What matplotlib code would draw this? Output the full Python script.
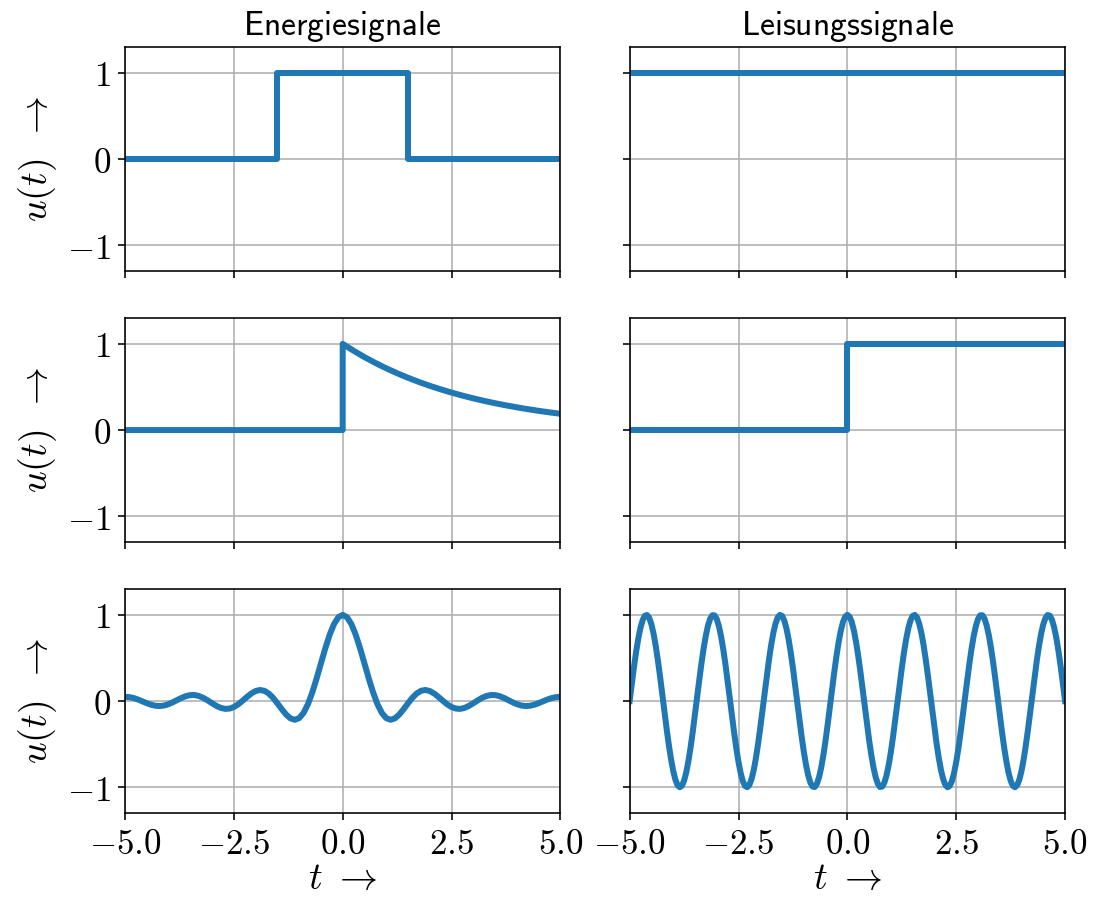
import numpy as np
import matplotlib
matplotlib.use("Agg")
import matplotlib.pyplot as plt

plt.rcParams['mathtext.fontset'] = 'cm'
plt.rcParams['font.family'] = ['DejaVu Serif']
plt.rcParams['font.size'] = 14

# sample grids for the smooth signals
t_grid = np.linspace(-5, 5, 101)   # step 0.1
t_fine = np.linspace(-5, 5, 201)   # step 0.05

# Energiesignale
rect_t = [-5, -1.5, -1.5, 1.5, 1.5, 5]
rect_u = [0, 0, 1, 1, 0, 0]

exp_t = [-5, 0, 0, 0.25, 0.5, 0.75, 1.0, 1.25, 1.5, 1.75, 2.0, 2.25, 2.5,
         2.75, 3.0, 3.25, 3.5, 3.75, 4.0, 4.25, 4.5, 4.75, 5.0]
exp_u = [0, 0, 1.0, 0.9200, 0.8465, 0.7788, 0.7165, 0.6592, 0.6065, 0.5580,
         0.5134, 0.4724, 0.4346, 0.3998, 0.3679, 0.3385, 0.3114, 0.2865,
         0.2636, 0.2425, 0.2231, 0.2053, 0.1889]

sinc_u = [0.0490, 0.0459, 0.0349, 0.0176, -0.0033, -0.0247, -0.0429, -0.0547,
          -0.0578, -0.0514, -0.0360, -0.0137, 0.0121, 0.0372, 0.0574, 0.0691,
          0.0698, 0.0586, 0.0369, 0.0074, -0.0252, -0.0558, -0.0791, -0.0906,
          -0.0876, -0.0693, -0.0376, 0.0033, 0.0474, 0.0875, 0.1164, 0.1283,
          0.1192, 0.0883, 0.0381, -0.0255, -0.0937, -0.1558, -0.2004, -0.2172,
          -0.1981, -0.1385, -0.0384, 0.0976, 0.2601, 0.4363, 0.6109, 0.7680,
          0.8925, 0.9723, 1.0,
          0.9723, 0.8925, 0.7680, 0.6109, 0.4363, 0.2601, 0.0976, -0.0384,
          -0.1385, -0.1981, -0.2172, -0.2004, -0.1558, -0.0937, -0.0255, 0.0381,
          0.0883, 0.1192, 0.1283, 0.1164, 0.0875, 0.0474, 0.0033, -0.0376,
          -0.0693, -0.0876, -0.0906, -0.0791, -0.0558, -0.0252, 0.0074, 0.0369,
          0.0586, 0.0698, 0.0691, 0.0574, 0.0372, 0.0121, -0.0137, -0.0360,
          -0.0514, -0.0578, -0.0547, -0.0429, -0.0247, -0.0033, 0.0176, 0.0349,
          0.0459, 0.0490]

# Leisungssignale
const_t = [-5, 5]
const_u = [1, 1]

step_t = [-5, 0, 0, 5]
step_u = [0, 0, 1, 1]

cos_u = [0.0, 0.2028, 0.3971, 0.5750, 0.7290, 0.8526, 0.9409, 0.9900, 0.9980, 0.9646,
         0.8910, 0.7804, 0.6374, 0.4679, 0.2790, 0.0785, -0.1253, -0.3239, -0.5090, -0.6730,
         -0.8090, -0.9114, -0.9759, -0.9999, -0.9823, -0.9239, -0.8271, -0.6959, -0.5358, -0.3535,
         -0.1564, 0.0471, 0.2487, 0.4399, 0.6129, 0.7604, 0.8763, 0.9558, 0.9956, 0.9940,
         0.9511, 0.8686, 0.7501, 0.6004, 0.4258, 0.2334, 0.0314, -0.1719, -0.3681, -0.5490,
         -0.7071, -0.8358, -0.9298, -0.9851, -0.9995, -0.9724, -0.9048, -0.7997, -0.6613, -0.4955,
         -0.3090, -0.1097, 0.0941, 0.2940, 0.4818, 0.6494, 0.7902, 0.8980, 0.9686, 0.9989,
         0.9877, 0.9354, 0.8443, 0.7181, 0.5621, 0.3827, 0.1874, -0.0157, -0.2181, -0.4115,
         -0.5878, -0.7396, -0.8607, -0.9461, -0.9921, -0.9969, -0.9603, -0.8838, -0.7705, -0.6252,
         -0.4540, -0.2639, -0.0628, 0.1409, 0.3387, 0.5225, 0.6845, 0.8181, 0.9178, 0.9792,
         1.0,
         0.9792, 0.9178, 0.8181, 0.6845, 0.5225, 0.3387, 0.1409, -0.0628, -0.2639, -0.4540,
         -0.6252, -0.7705, -0.8838, -0.9603, -0.9969, -0.9921, -0.9461, -0.8607, -0.7396, -0.5878,
         -0.4115, -0.2181, -0.0157, 0.1874, 0.3827, 0.5621, 0.7181, 0.8443, 0.9354, 0.9877,
         0.9989, 0.9686, 0.8980, 0.7902, 0.6494, 0.4818, 0.2940, 0.0941, -0.1097, -0.3090,
         -0.4955, -0.6613, -0.7997, -0.9048, -0.9724, -0.9995, -0.9851, -0.9298, -0.8358, -0.7071,
         -0.5490, -0.3681, -0.1719, 0.0314, 0.2334, 0.4258, 0.6004, 0.7501, 0.8686, 0.9511,
         0.9940, 0.9956, 0.9558, 0.8763, 0.7604, 0.6129, 0.4399, 0.2487, 0.0471, -0.1564,
         -0.3535, -0.5358, -0.6959, -0.8271, -0.9239, -0.9823, -0.9999, -0.9759, -0.9114, -0.8090,
         -0.6730, -0.5090, -0.3239, -0.1253, 0.0785, 0.2790, 0.4679, 0.6374, 0.7804, 0.8910,
         0.9646, 0.9980, 0.9900, 0.9409, 0.8526, 0.7290, 0.5750, 0.3971, 0.2028, 0.0]

x_ticks = [-5, -2.5, 0, 2.5, 5]
x_ticklabels = [r'$-5.0$', r'$-2.5$', r'$0.0$', r'$2.5$', r'$5.0$']
y_ticks = [-1, 0, 1]
y_ticklabels = [r'$-1$', r'$0$', r'$1$']

titles = [r'$\mathsf{Energiesignale}$', r'$\mathsf{Leisungssignale}$']

fig, axs = plt.subplots(3, 2, sharex=True, sharey=True,
                        figsize=(1106 / 144, 897 / 144), dpi=144)
fig.subplots_adjust(left=0.113, right=0.963, top=0.9476, bottom=0.0935,
                    wspace=0.159, hspace=0.209)

lw = 3.0
axs[0, 0].plot(rect_t, rect_u, lw=lw)
axs[1, 0].plot(exp_t, exp_u, lw=lw)
axs[2, 0].plot(t_grid, sinc_u, lw=lw)
axs[0, 1].plot(const_t, const_u, lw=lw)
axs[1, 1].plot(step_t, step_u, lw=lw)
axs[2, 1].plot(t_fine, cos_u, lw=lw)

for ax in axs.flat:
    ax.grid(True)
    ax.set_xlim(-5, 5)
    ax.set_ylim(-1.3, 1.3)
    ax.set_xticks(x_ticks, x_ticklabels)
    ax.set_yticks(y_ticks, y_ticklabels)
    ax.tick_params(labelsize=17.5)

for ax in axs[:, 0]:
    ax.set_ylabel(r'$u(t)\enspace\rightarrow$', fontsize=19)
for ax in axs[-1, :]:
    ax.set_xlabel(r'$t\ \rightarrow$', fontsize=19, labelpad=0)
for ax, title in zip(axs[0, :], titles):
    ax.set_title(title)

fig.savefig('out.png', dpi=144)
